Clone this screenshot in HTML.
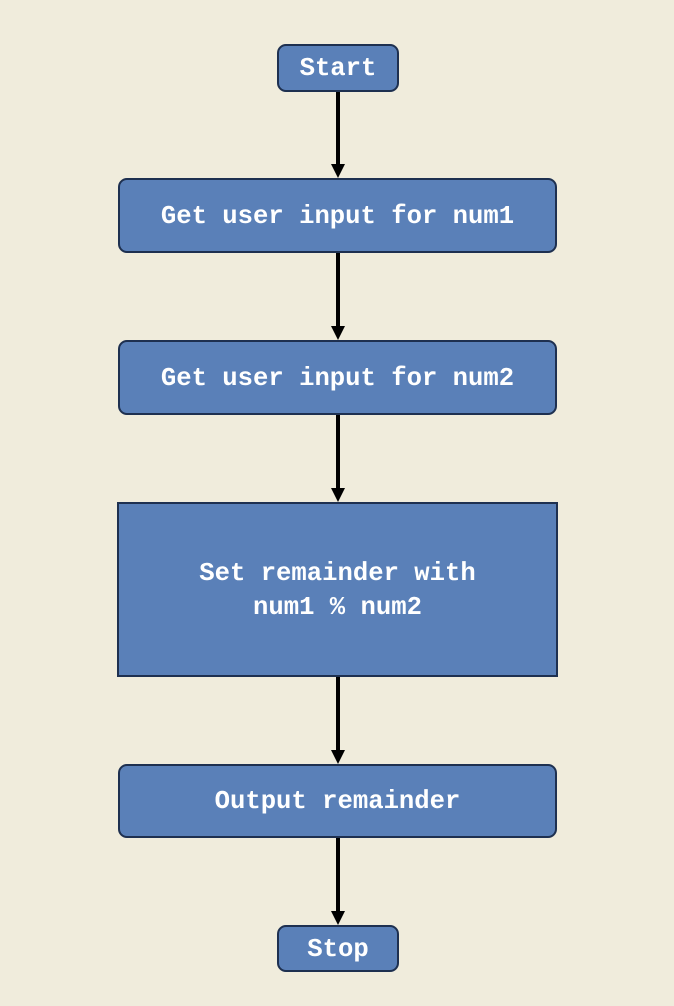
<!DOCTYPE html>
<html><head><meta charset="utf-8"><style>
html,body{margin:0;padding:0;}
body{width:674px;height:1006px;background:#f0ecdc;position:relative;overflow:hidden;}
.b{position:absolute;box-sizing:border-box;background:#5a80b8;border:2px solid #1e3050;color:#fff;
font-family:"Liberation Mono",monospace;font-size:25.6px;font-weight:bold;display:flex;align-items:center;justify-content:center;text-align:center;line-height:34px;padding-top:2px;}
.r{border-radius:9px;}
</style></head><body>
<svg width="674" height="1006" style="position:absolute;left:0;top:0">
<g stroke="#000" stroke-width="4">
<line x1="338" y1="92" x2="338" y2="166"/>
<line x1="338" y1="253" x2="338" y2="328"/>
<line x1="338" y1="415" x2="338" y2="490"/>
<line x1="338" y1="677" x2="338" y2="752"/>
<line x1="338" y1="838" x2="338" y2="913"/>
</g>
<g fill="#000">
<polygon points="331,164 345,164 338,178"/>
<polygon points="331,326 345,326 338,340"/>
<polygon points="331,488 345,488 338,502"/>
<polygon points="331,750 345,750 338,764"/>
<polygon points="331,911 345,911 338,925"/>
</g>
</svg>
<div class="b r" style="left:277px;top:44px;width:122px;height:48px;">Start</div>
<div class="b r" style="left:118px;top:178px;width:439px;height:75px;">Get user input for num1</div>
<div class="b r" style="left:118px;top:340px;width:439px;height:75px;">Get user input for num2</div>
<div class="b" style="left:117px;top:502px;width:441px;height:175px;">Set remainder with<br>num1 % num2</div>
<div class="b r" style="left:118px;top:764px;width:439px;height:74px;">Output remainder</div>
<div class="b r" style="left:277px;top:925px;width:122px;height:47px;">Stop</div>
</body></html>
